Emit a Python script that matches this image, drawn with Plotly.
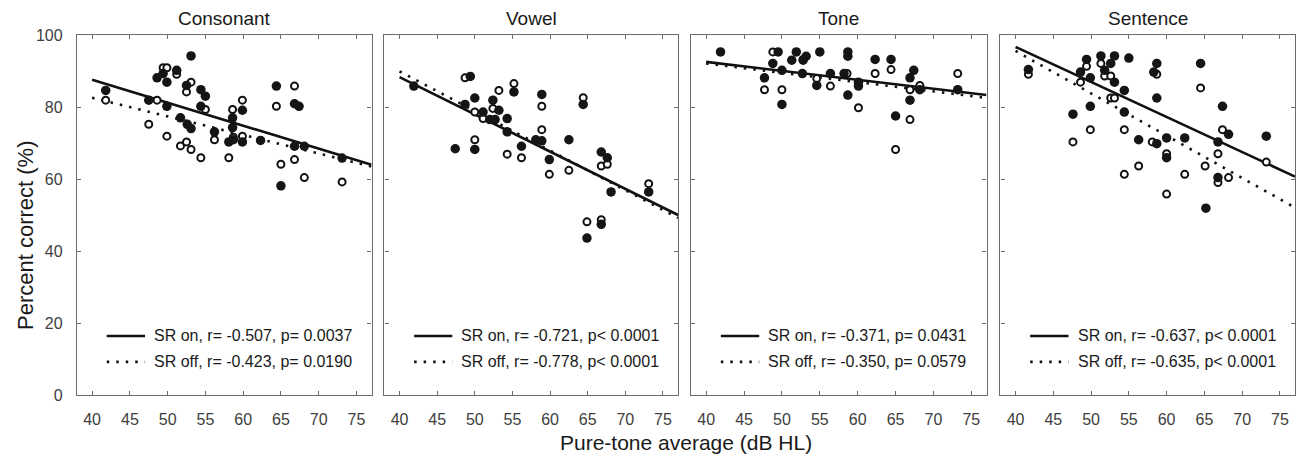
import plotly.graph_objects as go
import numpy as np

panel_titles = ["Consonant", "Vowel", "Tone", "Sentence"]

# ---- Consonant ----
cons_on_x = [41.8, 53.1, 48.6, 49.4, 49.9, 51.2, 52.5, 54.4, 55.0, 47.5, 49.9, 54.4, 51.7, 52.6, 53.1,
             56.2, 58.6, 58.6, 59.9, 58.1, 58.7, 59.9, 62.3, 64.4, 66.8, 67.4, 66.8, 68.1, 73.1, 65.0]
cons_on_y = [84.6, 94.2, 88.1, 89.3, 86.9, 90.2, 86.0, 84.8, 83.0, 81.9, 80.2, 80.2, 77.0, 75.2, 74.0,
             73.1, 77.0, 74.3, 79.1, 70.3, 70.9, 70.3, 70.7, 85.8, 80.9, 80.2, 69.1, 69.1, 65.8, 58.1]
cons_off_x = [41.8, 49.4, 49.9, 51.2, 53.1, 52.5, 48.6, 55.0, 47.5, 49.9, 51.7, 52.5, 53.1, 54.4, 56.2,
              58.6, 59.9, 58.7, 59.9, 58.1, 64.4, 66.8, 65.0, 66.8, 68.1, 73.1]
cons_off_y = [81.9, 90.9, 90.9, 89.1, 86.9, 84.2, 81.9, 79.3, 75.2, 71.9, 69.2, 70.3, 68.2, 65.9, 70.9,
              79.3, 81.9, 71.6, 71.9, 65.9, 80.2, 85.8, 64.1, 65.4, 60.4, 59.2]

# ---- Vowel ----
vow_on_x = [41.9, 49.4, 48.7, 50.0, 51.1, 52.4, 53.2, 52.0, 52.7, 54.3, 55.2, 58.9, 54.3, 47.4, 50.0,
            56.2, 58.1, 58.9, 59.9, 62.5, 64.4, 66.8, 67.6, 68.1, 73.1, 64.9, 66.8]
vow_on_y = [85.8, 88.5, 80.7, 82.5, 78.6, 81.9, 79.1, 76.5, 76.5, 76.8, 84.2, 83.5, 73.1, 68.4, 68.2,
            69.1, 70.9, 70.6, 65.4, 70.9, 80.7, 67.5, 65.9, 56.4, 56.4, 43.6, 47.4]
vow_off_x = [48.7, 55.2, 53.2, 50.0, 51.1, 52.4, 58.9, 58.9, 50.0, 54.3, 56.2, 59.9, 62.5, 64.4, 66.8,
             67.6, 73.1, 64.9, 66.8]
vow_off_y = [88.1, 86.5, 84.6, 78.6, 76.8, 79.6, 80.2, 73.7, 70.9, 66.9, 65.9, 61.3, 62.4, 82.6, 63.6,
             64.1, 58.7, 48.1, 48.7]

# ---- Tone ----
tone_on_x = [41.9, 49.5, 51.9, 55.0, 58.7, 58.7, 53.2, 51.3, 52.8, 62.3, 64.4, 48.8, 50.0, 52.7, 56.4,
             58.2, 47.7, 54.6, 60.1, 60.1, 67.4, 66.9, 68.2, 73.2, 58.7, 66.9, 50.0, 65.0]
tone_on_y = [95.3, 95.3, 95.3, 95.3, 95.3, 94.1, 94.1, 93.0, 93.0, 93.2, 93.2, 92.1, 90.2, 89.3, 89.3,
             89.3, 88.1, 86.0, 86.9, 85.8, 90.2, 88.1, 84.8, 84.8, 83.3, 81.9, 80.7, 77.5]
tone_off_x = [48.8, 52.8, 58.6, 54.6, 62.3, 64.4, 47.7, 50.0, 56.4, 60.1, 66.9, 68.2, 73.2, 66.9, 65.0]
tone_off_y = [95.3, 93.2, 89.3, 87.9, 89.3, 90.4, 84.8, 84.8, 85.8, 79.8, 84.8, 86.0, 89.3, 76.5, 68.2]

# ---- Sentence ----
sent_on_x = [41.7, 49.4, 51.3, 53.1, 55.0, 52.6, 58.7, 64.5, 48.6, 51.8, 58.3, 49.9, 53.1, 54.4, 58.7,
             47.6, 49.9, 54.4, 56.3, 58.7, 60.0, 62.4, 67.4, 66.8, 68.2, 73.2, 60.0, 66.8, 65.2]
sent_on_y = [90.4, 93.2, 94.2, 94.2, 93.6, 92.1, 92.1, 92.1, 89.7, 90.2, 89.7, 88.1, 86.9, 84.6, 82.5,
             78.0, 80.2, 78.6, 70.9, 69.8, 71.4, 71.4, 80.2, 70.3, 72.4, 71.9, 65.9, 60.4, 51.9]
sent_off_x = [41.7, 49.4, 51.3, 51.8, 52.6, 48.6, 58.7, 64.5, 52.6, 53.1, 47.6, 49.9, 54.4, 58.1, 60.0,
              67.4, 66.8, 56.3, 54.4, 62.4, 65.1, 60.0, 66.8, 68.2, 73.2]
sent_off_y = [89.1, 91.3, 92.1, 88.6, 88.6, 86.9, 89.1, 85.3, 82.5, 82.5, 70.3, 73.7, 73.7, 70.3, 67.0,
              73.7, 67.0, 63.6, 61.3, 61.3, 63.6, 55.8, 59.0, 60.4, 64.7]

# regression fits (intercept, slope)
fit_on = [(113.1, -0.638), (129.7, -1.035), (102.5, -0.249), (135.6, -0.973)]
fit_off = [(103.2, -0.516), (133.9, -1.100), (102.4, -0.258), (142.6, -1.176)]
fit_x_range = [40, 77]

legend_on = ["SR on, r= -0.507, p= 0.0037", "SR on, r= -0.721, p< 0.0001",
             "SR on, r= -0.371, p= 0.0431", "SR on, r= -0.637, p< 0.0001"]
legend_off = ["SR off, r= -0.423, p= 0.0190", "SR off, r= -0.778, p< 0.0001",
              "SR off, r= -0.350, p= 0.0579", "SR off, r= -0.635, p< 0.0001"]

x_ticks = [40, 45, 50, 55, 60, 65, 70, 75]
y_ticks = [0, 20, 40, 60, 80, 100]

panels = [
    (cons_on_x, cons_on_y, cons_off_x, cons_off_y),
    (vow_on_x, vow_on_y, vow_off_x, vow_off_y),
    (tone_on_x, tone_on_y, tone_off_x, tone_off_y),
    (sent_on_x, sent_on_y, sent_off_x, sent_off_y),
]

# The page has an 8px body margin; keep the figure inside the visible area.
OFF = 8
W, H = 1304 - 2 * OFF, 462 - 2 * OFF
RIGHT = 1295  # rightmost visible page x used for the last panel frame


def sx(page_x):
    # squeeze reference page x positions so the last frame stays visible
    return 77 + (page_x - 77) * (RIGHT - 77) / (1301 - 77)


ml, mt = 77 - OFF, 35 - OFF
mr = W - (RIGHT - OFF)
mb = H - (395 - OFF)
pw = W - ml - mr
ph = H - mt - mb
px_dom = [(77, 373), (386, 681), (694, 991), (1005, 1301)]
domains = [((sx(a) - OFF - ml) / pw, (sx(b) - OFF - ml) / pw) for a, b in px_dom]


def py(page_y):
    return ((H - mb) - (page_y - OFF)) / ph


def pxx(page_x):
    return (sx(page_x) - OFF - ml) / pw


FONT = "Liberation Sans, Arial, Helvetica, sans-serif"
AX = "#6b6b6b"
TXT = "#404040"
DOT = "2.5px,7px"

fig = go.Figure()

for i, (xo, yo, xf, yf) in enumerate(panels):
    n = "" if i == 0 else str(i + 1)
    xa, ya = "x" + n, "y" + n
    fx = np.array(fit_x_range, dtype=float)
    b, m = fit_on[i]
    fig.add_trace(go.Scatter(x=fx, y=b + m * fx, mode="lines", xaxis=xa, yaxis=ya,
                             line=dict(color="#111", width=2.6), showlegend=False))
    b, m = fit_off[i]
    fig.add_trace(go.Scatter(x=fx, y=b + m * fx, mode="lines", xaxis=xa, yaxis=ya,
                             line=dict(color="#111", width=2.6, dash=DOT), showlegend=False))
    fig.add_trace(go.Scatter(x=xf, y=yf, mode="markers", xaxis=xa, yaxis=ya,
                             marker=dict(symbol="circle", size=7, color="white",
                                         line=dict(color="#111", width=2)),
                             showlegend=False))
    fig.add_trace(go.Scatter(x=xo, y=yo, mode="markers", xaxis=xa, yaxis=ya,
                             marker=dict(symbol="circle", size=9.5, color="#151515",
                                         line=dict(width=0)),
                             showlegend=False))

    common = dict(showline=True, linecolor=AX, linewidth=1.3, mirror="ticks",
                  ticks="inside", ticklen=4, tickwidth=1, tickcolor=AX,
                  showgrid=False, zeroline=False,
                  tickfont=dict(family=FONT, size=16, color=TXT))
    fig.layout["xaxis" + n] = dict(common, domain=list(domains[i]), range=[38, 77],
                                   tickvals=x_ticks, anchor=ya, ticklabelstandoff=10)
    fig.layout["yaxis" + n] = dict(common, domain=[0, 1], range=[0, 100],
                                   tickvals=y_ticks, anchor=xa,
                                   showticklabels=(i == 0), ticklabelstandoff=10)

    # panel title
    fig.add_annotation(text=panel_titles[i], xref="x" + n + " domain", yref="paper",
                       x=0.5, y=py(18.5), xanchor="center", yanchor="middle", showarrow=False,
                       font=dict(family=FONT, size=19, color="#1a1a1a"))

    # in-panel legend
    for k, (label, dash) in enumerate([(legend_on[i], "solid"), (legend_off[i], DOT)]):
        yy = [0.164, 0.092][k]
        fig.add_shape(type="line", xref="x" + n + " domain", yref="y" + n + " domain",
                      x0=0.101, x1=0.231, y0=yy, y1=yy,
                      line=dict(color="#111", width=2.6, dash=dash))
        fig.add_annotation(text=label, xref="x" + n + " domain", yref="y" + n + " domain",
                           x=0.255, y=yy, xanchor="left", yanchor="middle", showarrow=False,
                           font=dict(family=FONT, size=16, color="#1a1a1a"))

# axis titles
fig.add_annotation(text="Pure-tone average (dB HL)", xref="paper", yref="paper",
                   x=pxx(689), y=py(442), xanchor="center", yanchor="middle",
                   showarrow=False, font=dict(family=FONT, size=21, color="#1a1a1a"))
fig.add_annotation(text="Percent correct (%)", xref="paper", yref="paper",
                   x=(25 - OFF - ml) / pw, y=py(235), xanchor="center", yanchor="middle",
                   textangle=-90, showarrow=False, font=dict(family=FONT, size=22, color="#1a1a1a"))

fig.update_layout(width=W, height=H, margin=dict(l=ml, r=mr, t=mt, b=mb),
                  plot_bgcolor="white", paper_bgcolor="white", showlegend=False)

fig.write_html("out.html")
